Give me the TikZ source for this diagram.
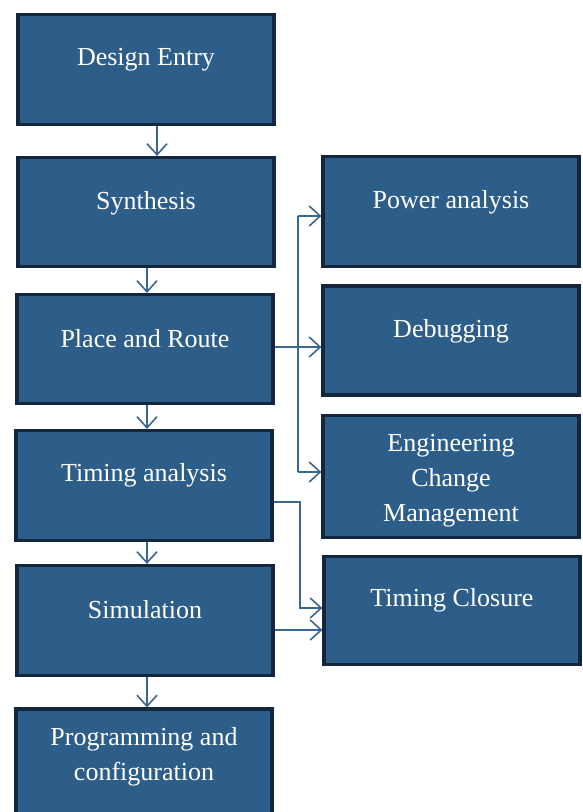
\documentclass[tikz,border=0pt]{standalone}
\usepackage{fontspec}
\setmainfont{Liberation Serif}
\usetikzlibrary{arrows.meta}
\definecolor{boxfill}{RGB}{45,93,137}
\definecolor{boxline}{RGB}{20,38,62}
\definecolor{connline}{RGB}{58,102,146}
\tikzset{
  stepbox/.style={draw=boxline, line width=3.2pt, fill=boxfill, rectangle,
    inner sep=0pt, minimum width=256pt, minimum height=110pt},
  boxtext/.style={text=white, font=\fontsize{26}{35}\selectfont, align=center, inner sep=0pt},
  conn/.style={draw=connline, line width=1.6pt},
  arr/.style={conn, -{Straight Barb[length=11pt,width=20pt,line width=1.6pt]}}
}
\begin{document}
\begin{tikzpicture}[x=1pt,y=-1pt]
\useasboundingbox (0,0) rectangle (582,812);
% left column
\node[stepbox] (de) at (146,69.5) {};
\node[boxtext] (det) at (146,60) {Design Entry};
\node[stepbox, minimum height=109pt] (sy) at (146,212) {};
\node[boxtext] (syt) at (146,203) {Synthesis};
\node[stepbox, minimum height=109pt] (pr) at (145,349) {};
\node[boxtext] (prt) at (145,339) {Place and Route};
\node[stepbox, minimum height=110pt] (ta) at (144,485.5) {};
\node[boxtext] (tat) at (144,475) {Timing analysis};
\node[stepbox, minimum height=110pt] (sim) at (145,620.5) {};
\node[boxtext] (simt) at (145,610) {Simulation};
\node[stepbox, minimum height=112pt] (pg) at (144,765) {};
\node[boxtext] (pgt) at (144,757) {Programming and\\configuration};
% right column
\node[stepbox, minimum height=110pt] (pw) at (451,211.5) {};
\node[boxtext] (pwt) at (451,202) {Power analysis};
\node[stepbox, minimum height=109pt] (db) at (451,340.5) {};
\node[boxtext] (dbt) at (451,331) {Debugging};
\node[stepbox, minimum height=122pt] (ec) at (451,476.5) {};
\node[boxtext] (ect) at (451,481) {Engineering\\Change\\Management};
\node[stepbox, minimum height=108pt] (tc) at (452,610.5) {};
\node[boxtext] (tct) at (452,600) {Timing Closure};
% vertical connectors
\coordinate (a1) at (157,0);
\coordinate (a2) at (147,0);
\draw[arr] (de.south -| a1) -- (sy.north -| a1);
\draw[arr] (sy.south -| a2) -- (pr.north -| a2);
\draw[arr] (pr.south -| a2) -- (ta.north -| a2);
\draw[arr] (ta.south -| a2) -- (sim.north -| a2);
\draw[arr] (sim.south -| a2) -- (pg.north -| a2);
% branch connectors
\coordinate (b1) at (298,216);
\coordinate (b2) at (298,347);
\coordinate (b3) at (298,472);
\coordinate (t1) at (300,502);
\coordinate (t2) at (300,608);
\coordinate (s1) at (300,630);
\draw[conn] (b1) -- (b3);
\draw[conn] (pr.east |- b2) -- (b2);
\draw[arr] (b1) -- (pw.west |- b1);
\draw[arr] (b2) -- (db.west |- b2);
\draw[arr] (b3) -- (ec.west |- b3);
\draw[arr] (ta.east |- t1) -- (t1) -- (t2) -- (tc.west |- t2);
\draw[arr] (sim.east |- s1) -- (tc.west |- s1);
\end{tikzpicture}
\end{document}
